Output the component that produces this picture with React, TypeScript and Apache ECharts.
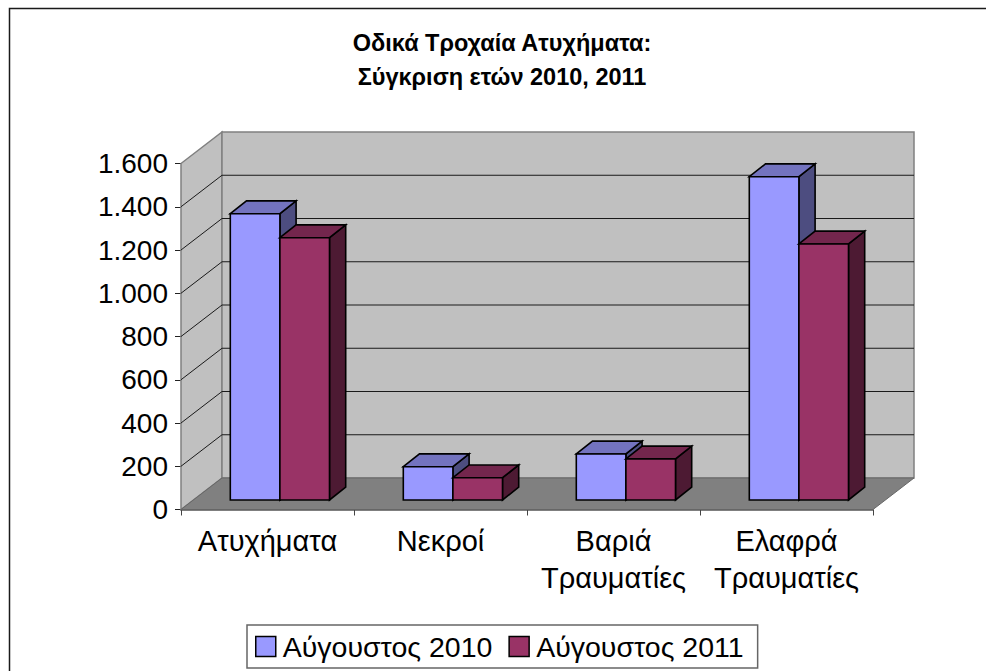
import React, { useEffect, useRef } from "react";
import * as echarts from "echarts";

const categories = ["Ατυχήματα", "Νεκροί", "Βαριά\nΤραυματίες", "Ελαφρά\nΤραυματίες"];
const seriesNames = ["Αύγουστος 2010", "Αύγουστος 2011"];
const values2010 = [1324, 154, 213, 1495];
const values2011 = [1213, 103, 190, 1184];
const gridTicks = [200, 400, 600, 800, 1000, 1200, 1400];
const titleLines = "Οδικά Τροχαία Ατυχήματα:\nΣύγκριση ετών 2010, 2011";

const FONT = "'Liberation Sans', Arial, sans-serif";
const WALL_DX = 41;
const WALL_DY = -31.5;
const BAR_OFF_X = 12.4;
const BAR_OFF_Y = -9.5;
const BAR_DX = 16.2;
const BAR_DY = -12.8;
const BAR_W = 49.6;

const poly = (points: number[][], fill: string, stroke: string, lineWidth: number) => ({
  type: "polygon",
  shape: { points },
  style: { fill, stroke, lineWidth, lineJoin: "miter" },
});
const seg = (x1: number, y1: number, x2: number, y2: number, stroke: string, lineWidth: number) => ({
  type: "line",
  shape: { x1, y1, x2, y2 },
  style: { stroke, lineWidth },
});

function barRenderer(slot: number, front: string, top: string, side: string) {
  return (_: any, api: any) => {
    const cat = api.value(0);
    const c1 = api.coord([cat, api.value(1)]);
    const c0 = api.coord([cat, 0]);
    const x0 = c1[0] + BAR_OFF_X + (slot - 1) * BAR_W;
    const x1 = x0 + BAR_W;
    const yt = c1[1] + BAR_OFF_Y;
    const yb = c0[1] + BAR_OFF_Y;
    return {
      type: "group",
      children: [
        poly([[x1, yt], [x1 + BAR_DX, yt + BAR_DY], [x1 + BAR_DX, yb + BAR_DY], [x1, yb]], side, "#000", 1.6),
        poly([[x0, yt], [x0 + BAR_DX, yt + BAR_DY], [x1 + BAR_DX, yt + BAR_DY], [x1, yt]], top, "#000", 1.6),
        poly([[x0, yt], [x1, yt], [x1, yb], [x0, yb]], front, "#000", 1.6),
      ],
    };
  };
}

export default function App() {
  const ref = useRef<HTMLDivElement>(null);
  useEffect(() => {
    const chart = echarts.init(ref.current!, null, { renderer: "svg" });
    chart.setOption({
      animation: false,
      backgroundColor: "#fff",
      title: {
        text: titleLines,
        left: 497,
        top: 21,
        textAlign: "center",
        textStyle: { fontFamily: FONT, fontSize: 23.5, fontWeight: "bold", color: "#000", lineHeight: 34 },
      },
      graphic: [
        {
          type: "polyline",
          silent: true,
          shape: { points: [[9.5, 671], [9.5, 8.5], [986, 8.5]] },
          style: { fill: "none", stroke: "#1a1a1a", lineWidth: 1.5 },
        },
      ],
      legend: {
        show: true,
        left: 247,
        top: 625,
        orient: "horizontal",
        padding: [7, 14, 7, 8],
        itemGap: 16,
        itemWidth: 20,
        itemHeight: 20,
        backgroundColor: "#fff",
        borderColor: "#666",
        borderWidth: 1.5,
        borderRadius: 0,
        textStyle: { fontFamily: FONT, fontSize: 28.5, color: "#000", padding: [0, 0, 0, 2] },
        data: [
          { name: seriesNames[0], icon: "rect", itemStyle: { color: "#9999FF", borderColor: "#000", borderWidth: 1.5 } },
          { name: seriesNames[1], icon: "rect", itemStyle: { color: "#993366", borderColor: "#000", borderWidth: 1.5 } },
        ],
      },
      grid: { left: 181, top: 163.5, width: 692, height: 346, containLabel: false },
      xAxis: {
        type: "category",
        data: categories,
        boundaryGap: true,
        axisLine: { show: true, lineStyle: { color: "#555", width: 1.5 } },
        axisTick: { show: true, length: 6, lineStyle: { color: "#444", width: 1 }, alignWithLabel: false },
        axisLabel: {
          interval: 0,
          margin: 13,
          fontFamily: FONT,
          fontSize: 29,
          lineHeight: 37,
          color: "#000",
          verticalAlign: "top",
        },
      },
      yAxis: {
        type: "value",
        min: 0,
        max: 1600,
        interval: 200,
        splitLine: { show: false },
        axisLine: { show: true, lineStyle: { color: "#222", width: 1 } },
        axisTick: { show: true, length: 6, lineStyle: { color: "#222", width: 1 } },
        axisLabel: {
          margin: 13,
          fontFamily: FONT,
          fontSize: 28,
          color: "#000",
          formatter: (v: number) => String(v).replace(/\B(?=(\d{3})+$)/g, "."),
        },
      },
      series: [
        {
          type: "custom",
          name: "walls",
          silent: true,
          z: 1,
          data: [[0, 0]],
          encode: { x: 0, y: 1 },
          renderItem: (_: any, api: any) => {
            const size = api.size([1, 0]);
            const origin = api.coord([0, 0]);
            const top = api.coord([0, 1600]);
            const l = origin[0] - size[0] / 2;
            const r = l + 4 * size[0];
            const b = origin[1];
            const t = top[1];
            return {
              type: "group",
              children: [
                poly([[l, t], [l + WALL_DX, t + WALL_DY], [l + WALL_DX, b + WALL_DY], [l, b]], "#C0C0C0", "#808080", 1.5),
                poly([[l + WALL_DX, t + WALL_DY], [r + WALL_DX, t + WALL_DY], [r + WALL_DX, b + WALL_DY], [l + WALL_DX, b + WALL_DY]], "#C0C0C0", "#808080", 1.5),
                poly([[l, b], [l + WALL_DX, b + WALL_DY], [r + WALL_DX, b + WALL_DY], [r, b]], "#808080", "#666", 1),
              ],
            };
          },
        },
        {
          type: "custom",
          name: "gridlines",
          silent: true,
          z: 2,
          data: gridTicks.map((v) => [0, v]),
          encode: { x: 0, y: 1 },
          renderItem: (_: any, api: any) => {
            const size = api.size([1, 0]);
            const c = api.coord([0, api.value(1)]);
            const l = c[0] - size[0] / 2;
            const r = l + 4 * size[0];
            return {
              type: "group",
              children: [
                seg(l, c[1], l + WALL_DX, c[1] + WALL_DY, "#1a1a1a", 1),
                seg(l + WALL_DX, c[1] + WALL_DY, r + WALL_DX, c[1] + WALL_DY, "#1a1a1a", 1),
              ],
            };
          },
        },
        {
          type: "custom",
          name: seriesNames[0],
          z: 3,
          itemStyle: { color: "#9999FF" },
          data: values2010.map((v, i) => [i, v]),
          encode: { x: 0, y: 1 },
          renderItem: barRenderer(0, "#9999FF", "#7373BF", "#4D4D80"),
        },
        {
          type: "custom",
          name: seriesNames[1],
          z: 4,
          itemStyle: { color: "#993366" },
          data: values2011.map((v, i) => [i, v]),
          encode: { x: 0, y: 1 },
          renderItem: barRenderer(1, "#993366", "#73264D", "#4D1A33"),
        },
      ],
    });
    return () => chart.dispose();
  }, []);
  return <div ref={ref} style={{ position: "absolute", left: 0, top: 0, width: 986, height: 671 }} />;
}
